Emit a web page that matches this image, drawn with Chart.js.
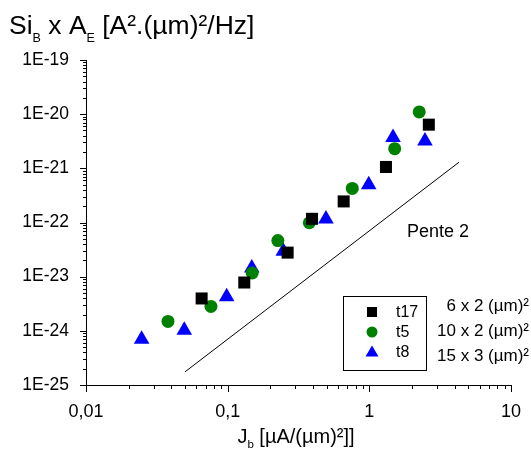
<!DOCTYPE html>
<html>
<head>
<meta charset="utf-8">
<script src="https://cdn.jsdelivr.net/npm/chart.js@4/dist/chart.umd.min.js"></script>
<style>
  html, body { margin: 0; padding: 0; background: #fff; }
</style>
</head>
<body>
<canvas id="myChart" width="531" height="455"></canvas>
<script>
const t17X = [0.0655, 0.131, 0.265, 0.394, 0.659, 1.31, 2.63];
const t17Y = [3.96e-24, 7.8e-24, 2.78e-23, 1.17e-22, 2.45e-22, 1.06e-21, 6.4e-21];

const t5X = [0.0379, 0.0762, 0.149, 0.226, 0.377, 0.758, 1.51, 2.25];
const t5Y = [1.49e-24, 2.82e-24, 1.17e-23, 4.64e-23, 9.9e-23, 4.26e-22, 2.31e-21, 1.1e-20];

const t8X = [0.0247, 0.0494, 0.0984, 0.148, 0.247, 0.494, 0.99, 1.47, 2.47];
const t8Y = [7.0e-25, 1.02e-24, 4.24e-24, 1.44e-23, 2.96e-23, 1.16e-22, 5.0e-22, 3.7e-21, 3.2e-21];

// slope 2 reference line
const penteX = [0.05, 4.3];
const penteY = [1.75e-25, 1.3e-21];

const xTickValues = [0.01, 0.1, 1, 10];
const xTickLabels = ['0,01', '0,1', '1', '10'];
const yTickValues = [1e-25, 1e-24, 1e-23, 1e-22, 1e-21, 1e-20, 1e-19];
const yTickLabels = ['1E-25', '1E-24', '1E-23', '1E-22', '1E-21', '1E-20', '1E-19'];

const seriesNames = ['t17', 't5', 't8'];
const seriesSizes = ['6 x 2 (µm)²', '10 x 2 (µm)²', '15 x 3 (µm)²'];

const FONT = "'Liberation Sans', Arial, sans-serif";

function toPoints(xs, ys) {
  return xs.map((x, i) => ({ x: x, y: ys[i] }));
}

// ticks, legend box and the titles with subscripts
const extras = {
  id: 'extras',
  afterDraw(chart) {
    const ctx = chart.ctx;
    const xs = chart.scales.x;
    const ys = chart.scales.y;
    const area = chart.chartArea;
    ctx.save();
    ctx.strokeStyle = '#000';
    ctx.lineWidth = 1;

    // x ticks, pointing down
    for (let n = -2; n <= 1; n++) {
      for (let k = 1; k <= 9; k++) {
        const v = k * Math.pow(10, n);
        if (v > 10.0001) break;
        const px = Math.round(xs.getPixelForValue(v)) + 0.5;
        const len = k === 1 ? 7 : 4;
        ctx.beginPath();
        ctx.moveTo(px, area.bottom);
        ctx.lineTo(px, area.bottom + len);
        ctx.stroke();
      }
    }
    // y ticks, pointing left
    for (let n = -25; n <= -19; n++) {
      for (let k = 1; k <= 9; k++) {
        const v = k * Math.pow(10, n);
        if (n === -19 && k > 1) break;
        const py = Math.round(ys.getPixelForValue(v)) + 0.5;
        const len = k === 1 ? 6 : 3;
        ctx.beginPath();
        ctx.moveTo(area.left, py);
        ctx.lineTo(area.left - len, py);
        ctx.stroke();
      }
    }

    // legend box
    ctx.strokeRect(343.5, 296.5, 83, 74);
    const ly = [312, 332, 352];
    const lx = 372;
    ctx.fillStyle = '#000';
    ctx.fillRect(lx - 5, ly[0] - 5, 10, 10);
    ctx.fillStyle = '#008000';
    ctx.beginPath();
    ctx.arc(lx, ly[1], 5.5, 0, Math.PI * 2);
    ctx.fill();
    ctx.fillStyle = '#0000ff';
    ctx.beginPath();
    ctx.moveTo(lx, ly[2] - 6.5);
    ctx.lineTo(lx + 6.5, ly[2] + 4.5);
    ctx.lineTo(lx - 6.5, ly[2] + 4.5);
    ctx.closePath();
    ctx.fill();

    ctx.fillStyle = '#000';
    ctx.font = '16px ' + FONT;
    ctx.textBaseline = 'middle';
    ctx.textAlign = 'left';
    seriesNames.forEach((s, i) => ctx.fillText(s, 396, ly[i] + 1));
    ctx.font = '17px ' + FONT;
    ctx.textAlign = 'right';
    const ry = [306, 331, 356];
    seriesSizes.forEach((s, i) => ctx.fillText(s, 529, ry[i]));

    ctx.textAlign = 'center';
    ctx.font = '18px ' + FONT;
    ctx.fillText('Pente 2', 438, 232);

    // titles
    ctx.textAlign = 'left';
    ctx.textBaseline = 'alphabetic';
    drawRich(ctx, [
      ['Si', 26.5, 0], ['B', 12.5, 8], [' x A', 26.5, 0], ['E', 12.5, 8], [' [A².(µm)²/Hz]', 26.5, 0]
    ], 9, 34);
    const xt = [['J', 20, 0], ['b', 11.5, 5], [' [µA/(µm)²]]', 20, 0]];
    drawRich(ctx, xt, 296 - richWidth(ctx, xt) / 2, 443);
    ctx.restore();
  }
};

function richWidth(ctx, parts) {
  let w = 0;
  parts.forEach(p => { ctx.font = p[1] + 'px ' + FONT; w += ctx.measureText(p[0]).width; });
  return w;
}

function drawRich(ctx, parts, x, y) {
  parts.forEach(p => {
    ctx.font = p[1] + 'px ' + FONT;
    ctx.fillText(p[0], x, y + p[2]);
    x += ctx.measureText(p[0]).width;
  });
}

new Chart(document.getElementById('myChart').getContext('2d'), {
  type: 'scatter',
  data: {
    datasets: [
      {
        label: 't17',
        data: toPoints(t17X, t17Y),
        pointStyle: 'rect',
        pointRadius: 8.5,
        backgroundColor: '#000',
        borderColor: '#000',
        borderWidth: 0
      },
      {
        label: 't5',
        data: toPoints(t5X, t5Y),
        pointStyle: 'circle',
        pointRadius: 6.5,
        backgroundColor: '#008000',
        borderColor: '#008000',
        borderWidth: 0
      },
      {
        label: 't8',
        data: toPoints(t8X, t8Y),
        pointStyle: 'triangle',
        pointRadius: 9,
        backgroundColor: '#0000ff',
        borderColor: '#0000ff',
        borderWidth: 0
      },
      {
        type: 'line',
        label: 'Pente 2',
        data: toPoints(penteX, penteY),
        borderColor: '#000',
        borderWidth: 1,
        pointRadius: 0,
        fill: false
      }
    ]
  },
  options: {
    responsive: false,
    animation: false,
    devicePixelRatio: 1,
    layout: { padding: { top: 60, right: 20, left: 0, bottom: 0 } },
    plugins: {
      legend: { display: false },
      tooltip: { enabled: false }
    },
    scales: {
      x: {
        type: 'logarithmic',
        min: 0.01,
        max: 10,
        afterBuildTicks: scale => { scale.ticks = xTickValues.map(v => ({ value: v })); },
        afterFit: scale => { scale.height = 70; },
        grid: { display: false },
        border: { display: true, color: '#000', width: 1 },
        ticks: {
          autoSkip: false,
          maxRotation: 0,
          padding: 8,
          color: '#000',
          font: { family: FONT, size: 18 },
          callback: (value, index) => xTickLabels[index]
        }
      },
      y: {
        type: 'logarithmic',
        min: 1e-25,
        max: 1e-19,
        afterBuildTicks: scale => { scale.ticks = yTickValues.map(v => ({ value: v })); },
        afterFit: scale => { scale.width = 86; },
        grid: { display: false },
        border: { display: true, color: '#000', width: 1 },
        ticks: {
          autoSkip: false,
          padding: 9,
          color: '#000',
          font: { family: FONT, size: 17.5 },
          callback: (value, index) => yTickLabels[index]
        }
      }
    }
  },
  plugins: [extras]
});
</script>
</body>
</html>
